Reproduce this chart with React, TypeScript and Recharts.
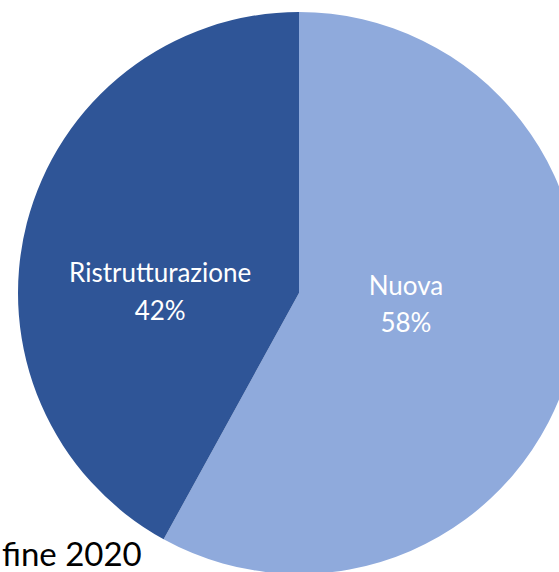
import { PieChart, Pie, Cell } from "recharts";

/* ---------- data ---------- */
const categories = ["Nuova", "Ristrutturazione"];
const values = [58, 42];
const percentLabels = ["58%", "42%"];
const footerText = "fine 2020";

const COLORS = ["#8FAADC", "#2F5597"];

// label placement (fraction of radius along mid angle + vertical nudge)
const LABEL_R = [0.393, 0.51];
const LABEL_DY = [-25.5, 25];
const RADIAN = Math.PI / 180;

const data = categories.map((name, i) => ({ name, value: values[i] }));

function renderLabel(props: any) {
  const { cx, cy, midAngle, outerRadius, index } = props;
  const r = outerRadius * LABEL_R[index];
  const x = cx + r * Math.cos(-midAngle * RADIAN);
  const y = cy + r * Math.sin(-midAngle * RADIAN) + LABEL_DY[index];
  return (
    <text
      x={x}
      y={y}
      fill="#ffffff"
      textAnchor="middle"
      fontFamily="Lato, sans-serif"
      fontSize={26}
    >
      <tspan x={x} y={y}>
        {categories[index]}
      </tspan>
      <tspan x={x} y={y + 37.5}>
        {percentLabels[index]}
      </tspan>
    </text>
  );
}

export default function App() {
  return (
    <div
      style={{
        position: "absolute",
        left: 0,
        top: 0,
        width: 559,
        height: 572,
        background: "#fff",
        overflow: "hidden",
      }}
    >
      <div
        style={{
          position: "absolute",
          left: 2,
          top: 536,
          fontFamily: "Lato, sans-serif",
          fontSize: 33,
          lineHeight: "34px",
          color: "#000",
          whiteSpace: "nowrap",
        }}
      >
        {footerText}
      </div>
      <div style={{ position: "absolute", left: 0, top: 0 }}>
        <PieChart
          width={559}
          height={572}
          margin={{ top: 0, right: 0, bottom: 0, left: 0 }}
        >
          <Pie
            data={data}
            dataKey="value"
            nameKey="name"
            cx={299}
            cy={293}
            innerRadius={0}
            outerRadius={281}
            startAngle={90}
            endAngle={-270}
            stroke="none"
            labelLine={false}
            label={renderLabel}
            isAnimationActive={false}
          >
            {data.map((_, i) => (
              <Cell key={i} fill={COLORS[i]} />
            ))}
          </Pie>
        </PieChart>
      </div>
    </div>
  );
}
